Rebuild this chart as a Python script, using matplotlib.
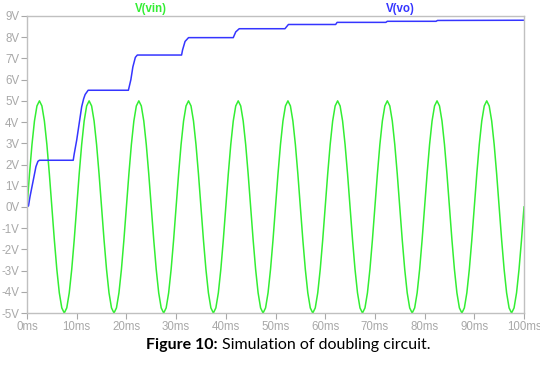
import numpy as np
import matplotlib
matplotlib.use("Agg")
import matplotlib.pyplot as plt

# --- DADOS ---

# V(vin): um período (10 ms), amostras a cada 0.5 ms
vin_periodo = [0.0, 1.55, 2.94, 4.05, 4.76, 5.0, 4.76, 4.05, 2.94, 1.55,
               0.0, -1.55, -2.94, -4.05, -4.76, -5.0, -4.76, -4.05, -2.94, -1.55]
n_periodos = 10
passo_ms = 0.5

# V(vo): escada do dobrador (tempo em ms, tensão em V)
t_vo = [0.0, 0.3, 0.6, 1.27, 1.8, 2.2, 2.5, 9.3, 9.5, 10.0, 11.0, 11.4, 11.7, 12.3,
        20.4, 20.9, 21.3, 21.8, 22.2, 31.1, 31.3, 31.8, 32.5, 41.5, 42.0, 42.7,
        51.9, 52.6, 62.1, 62.4, 72.2, 72.5, 82.3, 82.6, 100.0]
v_vo = [0.0, 0.05, 0.48, 1.27, 1.9, 2.15, 2.2, 2.2, 2.5, 3.15, 4.72, 5.1, 5.3, 5.5,
        5.5, 6.0, 6.6, 7.05, 7.16, 7.16, 7.4, 7.8, 7.98, 7.98, 8.25, 8.4,
        8.4, 8.6, 8.6, 8.7, 8.7, 8.75, 8.75, 8.79, 8.8]

ticks_y = list(range(-5, 10))
ticks_x = list(range(0, 101, 10))

# --- TRAÇOS ---

vin = vin_periodo * n_periodos + [0.0]
t_vin = np.arange(len(vin)) * passo_ms

cinza = '#a8a8a8'
verde = '#33ee33'
azul = '#3535ff'

fig = plt.figure(figsize=(5.4, 3.8), dpi=100)
ax = fig.add_axes([27 / 540, 1 - 313 / 380, 497 / 540, 297 / 380])

ax.plot(t_vin, vin, color=verde, lw=1.1)
ax.plot(t_vo, v_vo, color=azul, lw=1.1)

ax.set_xlim(0, 100)
ax.set_ylim(-5, 9)
ax.set_xticks(ticks_x)
ax.set_xticklabels([f"{t}ms" for t in ticks_x])
ax.set_yticks(ticks_y)
ax.set_yticklabels([f"{v}V" for v in ticks_y])

for lado in ax.spines.values():
    lado.set_color('#c0c0c0')
    lado.set_linewidth(1.0)

ax.tick_params(direction='out', length=4, width=0.8, color=cinza,
               labelcolor=cinza, labelsize=8.3, pad=1.5)
for rotulo in ax.get_xticklabels() + ax.get_yticklabels():
    rotulo.set_family('Liberation Sans')

fig.text(151 / 540, 1 - 9 / 380, "V(vin)", color=verde, fontsize=8.3,
         fontweight='bold', family='Liberation Sans', ha='center', va='center')
fig.text(400 / 540, 1 - 9 / 380, "V(vo)", color=azul, fontsize=8.3,
         fontweight='bold', family='Liberation Sans', ha='center', va='center')

# legenda da figura: parte em negrito + texto normal
t1 = fig.text(146 / 540, 1 - 345 / 380, "Figure 10:", fontsize=11.5,
              fontweight='bold', family='Lato', ha='left', va='center')
fig.canvas.draw()
bb = t1.get_window_extent()
fig.text(bb.x1 / fig.bbox.width + 0.008, 1 - 345 / 380,
         "Simulation of doubling circuit.", fontsize=11.5, family='Lato',
         ha='left', va='center')

fig.savefig("out.png", dpi=100)
